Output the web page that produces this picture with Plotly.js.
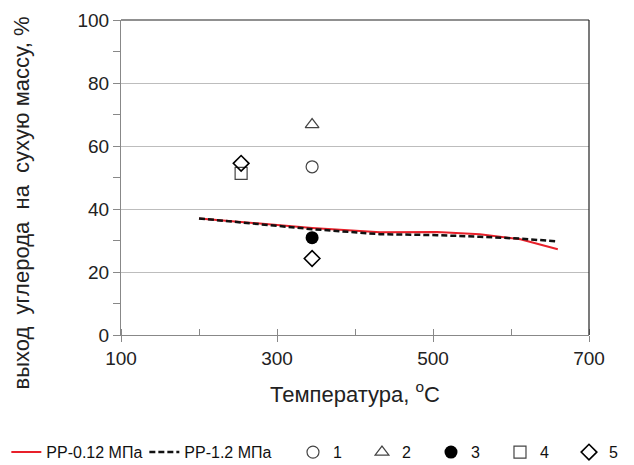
<!DOCTYPE html>
<html>
<head>
<meta charset="utf-8">
<script src="https://cdn.plot.ly/plotly-3.0.1.min.js"></script>
<style>html,body{margin:0;padding:0;background:#fff}#chart{width:634px;height:465px}</style>
</head>
<body>
<div id="chart"></div>
<script>
var tempLine = [200, 250, 300, 345, 432, 505, 560, 612, 660];
var pp012 = [37.0, 36.0, 35.0, 34.0, 32.6, 32.7, 32.0, 30.4, 27.2];
var pp12  = [37.0, 35.8, 34.8, 33.6, 32.0, 31.7, 31.2, 30.6, 29.7];

var s1x = [345], s1y = [53.4];
var s2x = [345], s2y = [66.8];
var s3x = [345], s3y = [30.9];
var s4x = [254], s4y = [51.3];
var s5x = [254, 345], s5y = [54.5, 24.3];

var names = ['PP-0.12 МПа', 'PP-1.2 МПа', '1', '2', '3', '4', '5'];

var traces = [
  {x: tempLine, y: pp012, name: names[0], mode: 'lines', legend: 'legend', legendwidth: 93, line: {color: '#e8202a', width: 2}},
  {x: tempLine, y: pp12, name: names[1], mode: 'lines', legend: 'legend', legendwidth: 103, line: {color: '#111', width: 2.5, dash: '6px,3px'}},
  {x: s1x, y: s1y, name: names[2], mode: 'markers', legend: 'legend2', legendwidth: 24, marker: {symbol: 'circle-open', size: 12, color: '#444', line: {width: 1.2, color: '#444'}}},
  {x: s2x, y: s2y, name: names[3], mode: 'markers', legend: 'legend2', legendwidth: 24, marker: {symbol: 'triangle-up-open', size: 12, color: '#444', line: {width: 1.2, color: '#444'}}},
  {x: s3x, y: s3y, name: names[4], mode: 'markers', legend: 'legend2', legendwidth: 24, marker: {symbol: 'circle', size: 13, color: '#000'}},
  {x: s4x, y: s4y, name: names[5], mode: 'markers', legend: 'legend2', legendwidth: 24, marker: {symbol: 'square-open', size: 12, color: '#444', line: {width: 1.2, color: '#444'}}},
  {x: s5x, y: s5y, name: names[6], mode: 'markers', legend: 'legend2', legendwidth: 24, marker: {symbol: 'diamond-open', size: 12, color: '#000', line: {width: 1.6, color: '#000'}}}
];

var F = 'Liberation Sans, Arial, sans-serif';
var legFont = {family: F, size: 16, color: '#111'};
var layout = {
  width: 634, height: 465,
  margin: {l: 121, r: 45, t: 20, b: 130, autoexpand: false},
  paper_bgcolor: '#fff', plot_bgcolor: '#fff',
  font: {family: F, size: 19, color: '#222'},
  showlegend: true,
  legend: {orientation: 'h', x: -0.245, xanchor: 'left', y: -0.372, yanchor: 'middle',
           font: legFont, bgcolor: 'rgba(0,0,0,0)'},
  legend2: {orientation: 'h', x: 0.3675, xanchor: 'left', y: -0.372, yanchor: 'middle',
           font: legFont, bgcolor: 'rgba(0,0,0,0)'},
  xaxis: {range: [100, 700], dtick: 200, tick0: 100, showgrid: false, zeroline: false,
          showline: true, linecolor: '#888', linewidth: 1,
          ticks: 'outside', ticklen: 6, tickcolor: '#888',
          minor: {dtick: 100, ticks: 'inside', ticklen: 6, tickcolor: '#888', showgrid: false},
          tickfont: {size: 19, color: '#222'},
          title: {text: 'Температура, <sup>o</sup>C', font: {size: 22, color: '#222'}, standoff: 18}},
  yaxis: {range: [0, 100], dtick: 20, showgrid: true, gridcolor: '#bdbdbd', gridwidth: 1,
          zeroline: false, showline: true, linecolor: '#888', linewidth: 1,
          ticks: 'outside', ticklen: 7, tickcolor: '#888',
          minor: {dtick: 10, ticks: 'outside', ticklen: 7, tickcolor: '#888', showgrid: false},
          tickfont: {size: 19, color: '#222'}},
  shapes: [
    {type: 'line', xref: 'paper', yref: 'paper', x0: 0, x1: 1, y0: 1, y1: 1, line: {color: '#222', width: 1.2}},
    {type: 'line', xref: 'paper', yref: 'paper', x0: 1, x1: 1, y0: 0, y1: 1, line: {color: '#222', width: 1.2}}
  ],
  annotations: [
    {text: 'выход  углерода  на  сухую массу, %', xref: 'paper', yref: 'paper',
     x: -0.212, y: 0.42, textangle: -90, showarrow: false, xanchor: 'center', yanchor: 'middle',
     font: {family: F, size: 22, color: '#222'}}
  ]
};

Plotly.newPlot('chart', traces, layout, {displayModeBar: false, staticPlot: true});
</script>
</body>
</html>
